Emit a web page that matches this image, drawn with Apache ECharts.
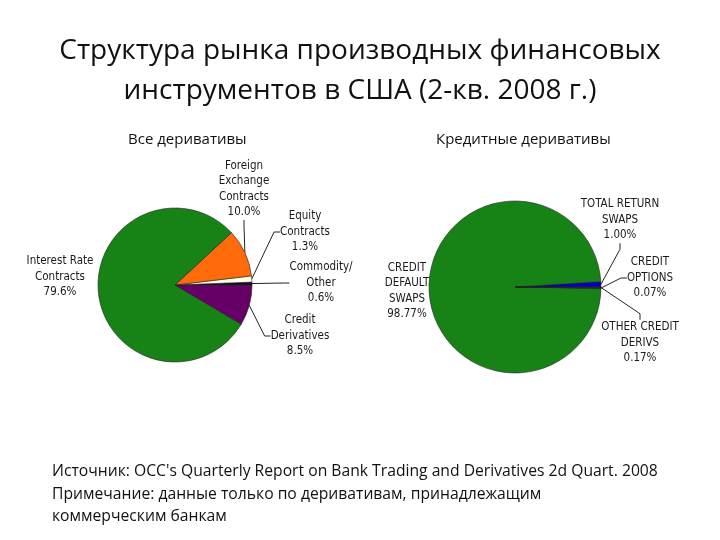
<!DOCTYPE html>
<html><head><meta charset="utf-8">
<script src="https://cdn.jsdelivr.net/npm/echarts@6/dist/echarts.min.js"></script>
<style>html,body{margin:0;padding:0;background:#fff}#c{width:720px;height:540px}</style>
</head><body><div id="c"></div>
<script>
// ---- data ----
const allNames = ["Commodity/\nOther", "Equity\nContracts", "Foreign\nExchange\nContracts", "Interest Rate\nContracts", "Credit\nDerivatives"];
const allValues = [0.6, 1.3, 10.0, 79.6, 8.5];
const creditNames = ["TOTAL RETURN\nSWAPS", "CREDIT\nDEFAULT\nSWAPS", "CREDIT\nOPTIONS", "OTHER CREDIT\nDERIVS"];
const creditValues = [1.00, 98.77, 0.07, 0.17];
const titleLines = ["Структура рынка производных финансовых", "инструментов в США (2-кв. 2008 г.)"];
const subLeft = "Все деривативы";
const subRight = "Кредитные деривативы";
const noteLines = ["Источник: OCC's Quarterly Report on Bank Trading and Derivatives 2d Quart. 2008",
  "Примечание: данные только по деривативам, принадлежащим", "коммерческим банкам"];

// ---- styling / layout ----
const allColors = ["#0a0a2a", "#FFFFE6", "#FF6A0A", "#178317", "#660066"];
const creditColors = ["#0000C8", "#178317", "#1a1a60", "#303030"];
const allLabelPos = [[321, 283], [244, 189], [244, 189], [60, 277], [300, 336]];
allLabelPos[1] = [305, 232];
const creditLabelPos = [[620, 220], [407, 291], [650, 278], [640, 343]];

const chart = echarts.init(document.getElementById('c'));
const labelFont = {fontFamily: 'DejaVu Sans Condensed', fontSize: 11.5, color: '#1a1a1a', lineHeight: 15.5, align: 'center', overflow: 'none'};

function mkData(names, values, colors, decimals, noLine) {
  return names.map((n, i) => ({
    name: n, value: values[i],
    itemStyle: {color: colors[i]},
    label: {formatter: n + '\n' + values[i].toFixed(decimals) + '%'},
    labelLine: {show: noLine.indexOf(i) < 0}
  }));
}

const ts = (size) => ({fontFamily: 'Open Sans', fontSize: size, fontWeight: 'normal', color: '#111'});
chart.setOption({
  animation: false,
  title: [
    {text: titleLines[0], left: 'center', top: 32, textStyle: ts(28)},
    {text: titleLines[1], left: 'center', top: 72, textStyle: ts(28)},
    {text: subLeft, left: 123, top: 127, textStyle: ts(15)},
    {text: subRight, left: 431, top: 127, textStyle: ts(15)},
    {text: noteLines[0], left: 47, top: 459, textStyle: ts(15.7)},
    {text: noteLines[1], left: 47, top: 482, textStyle: ts(15.7)},
    {text: noteLines[2], left: 47, top: 504, textStyle: ts(15.7)}
  ],
  series: [
    {
      type: 'pie', center: [175, 285], radius: 77, startAngle: 0, clockwise: false,
      itemStyle: {borderColor: '#222', borderWidth: 0.6},
      label: Object.assign({show: true, position: 'outside'}, labelFont),
      labelLine: {show: true, length: 8, length2: 6, lineStyle: {color: '#222', width: 1}},
      labelLayout: p => ({x: allLabelPos[p.dataIndex][0], y: allLabelPos[p.dataIndex][1], align: 'center', verticalAlign: 'middle'}),
      emphasis: {disabled: true},
      data: mkData(allNames, allValues, allColors, 1, [3])
    },
    {
      type: 'pie', center: [515, 287], radius: 86, startAngle: 0, clockwise: false,
      itemStyle: {borderColor: '#222', borderWidth: 0.6},
      label: Object.assign({show: true, position: 'outside'}, labelFont),
      labelLine: {show: true, length: 8, length2: 6, lineStyle: {color: '#222', width: 1}},
      labelLayout: p => ({x: creditLabelPos[p.dataIndex][0], y: creditLabelPos[p.dataIndex][1], align: 'center', verticalAlign: 'middle'}),
      emphasis: {disabled: true},
      data: mkData(creditNames, creditValues, creditColors, 2, [1])
    }
  ]
});
</script></body></html>
